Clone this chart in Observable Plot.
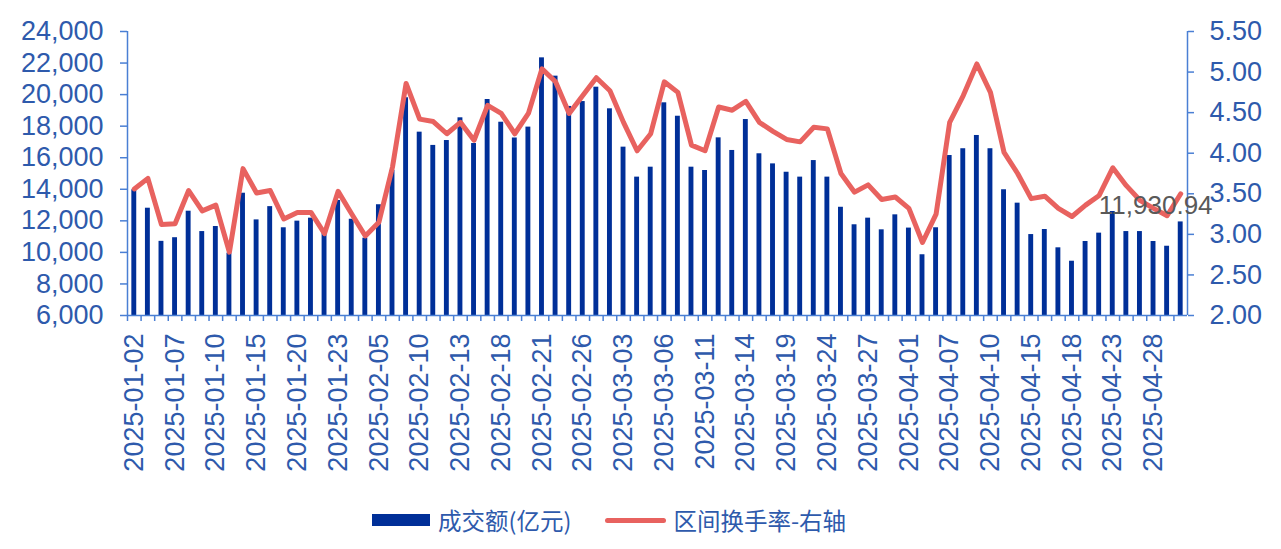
<!DOCTYPE html>
<html>
<head>
<meta charset="utf-8">
<script src="https://cdn.jsdelivr.net/npm/d3@7"></script>
<script src="https://cdn.jsdelivr.net/npm/@observablehq/plot@0.6"></script>
<style>
  html, body { margin: 0; padding: 0; background: #fff; }
  #wrap { width: 1281px; }
  #legend { display: flex; align-items: center; height: 50px; padding-left: 372px;
    font-family: "Noto Sans CJK SC", sans-serif; font-size: 23.5px; color: #2E5AAC; }
  .sw-bar { width: 58px; height: 12px; background: #002F98; margin-right: 8px; }
  .sw-line { width: 61px; height: 5px; border-radius: 3px; background: #E8625F; margin-left: 34px; margin-right: 7px; }
</style>
</head>
<body>
<div id="wrap"><div id="chart"></div>
<div id="legend"><div class="sw-bar"></div><span>成交额(亿元)</span><div class="sw-line"></div><span>区间换手率-右轴</span></div>
</div>
<script>
const dates = [
"2025-01-02","2025-01-03","2025-01-06","2025-01-07","2025-01-08","2025-01-09","2025-01-10","2025-01-13","2025-01-14","2025-01-15",
"2025-01-16","2025-01-17","2025-01-20","2025-01-21","2025-01-22","2025-01-23","2025-01-24","2025-01-27","2025-02-05","2025-02-06",
"2025-02-07","2025-02-10","2025-02-11","2025-02-12","2025-02-13","2025-02-14","2025-02-17","2025-02-18","2025-02-19","2025-02-20",
"2025-02-21","2025-02-24","2025-02-25","2025-02-26","2025-02-27","2025-02-28","2025-03-03","2025-03-04","2025-03-05","2025-03-06",
"2025-03-07","2025-03-10","2025-03-11","2025-03-12","2025-03-13","2025-03-14","2025-03-17","2025-03-18","2025-03-19","2025-03-20",
"2025-03-21","2025-03-24","2025-03-25","2025-03-26","2025-03-27","2025-03-28","2025-03-31","2025-04-01","2025-04-02","2025-04-03",
"2025-04-07","2025-04-08","2025-04-09","2025-04-10","2025-04-11","2025-04-14","2025-04-15","2025-04-16","2025-04-17","2025-04-18",
"2025-04-21","2025-04-22","2025-04-23","2025-04-24","2025-04-25","2025-04-28","2025-04-29","2025-04-30"];

// 成交额(亿元)
const volume = [
13970,12800,10700,10930,12610,11320,11640,9950,13750,12060,
12900,11560,11980,12170,11200,13290,12100,10900,13020,15200,
19800,17620,16780,17090,18530,16900,19690,18250,17250,17940,
22330,21170,19250,19560,20470,19100,16670,14770,15400,19480,
18630,15400,15190,17260,16460,18420,16250,15610,15080,14770,
15820,14770,12860,11750,12170,11430,12380,11540,9850,11560,
16140,16570,17410,16570,13970,13120,11130,11450,10290,9440,
10690,11220,12590,11320,11320,10690,10390,11930.94];

// 区间换手率 (右轴, %)
const turnover = [
3.56,3.69,3.12,3.13,3.54,3.29,3.36,2.78,3.81,3.51,
3.54,3.19,3.27,3.27,3.01,3.53,3.25,2.98,3.15,3.83,
4.86,4.42,4.39,4.24,4.38,4.16,4.59,4.49,4.24,4.49,
5.04,4.88,4.49,4.71,4.93,4.77,4.38,4.03,4.24,4.88,
4.75,4.10,4.03,4.57,4.53,4.64,4.38,4.27,4.17,4.14,
4.32,4.30,3.75,3.52,3.61,3.43,3.46,3.32,2.90,3.25,
4.38,4.71,5.10,4.75,4.01,3.75,3.44,3.47,3.32,3.22,
3.36,3.48,3.82,3.60,3.42,3.32,3.23,3.50];

const xTickLabels = ["2025-01-02","2025-01-07","2025-01-10","2025-01-15","2025-01-20","2025-01-23","2025-02-05",
"2025-02-10","2025-02-13","2025-02-18","2025-02-21","2025-02-26","2025-03-03","2025-03-06","2025-03-11","2025-03-14",
"2025-03-19","2025-03-24","2025-03-27","2025-04-01","2025-04-07","2025-04-10","2025-04-15","2025-04-18","2025-04-23","2025-04-28"];
const leftTicks = [6000,8000,10000,12000,14000,16000,18000,20000,22000,24000];
const rightTicks = [2.00,2.50,3.00,3.50,4.00,4.50,5.00,5.50];

const leftDomain = [6000, 24000];
const rightDomain = [2.0, 5.5];
const k = (leftDomain[1]-leftDomain[0])/(rightDomain[1]-rightDomain[0]);
const toLeft = r => leftDomain[0] + (r - rightDomain[0]) * k;
const fromLeft = v => (v - leftDomain[0]) / k + rightDomain[0];

const rows = dates.map((d, i) => ({date: d, vol: volume[i], turn: turnover[i]}));

const W = 1281, H = 495, mL = 127, mR = 94, mT = 31, mB = 180;
const step = (W - mL - mR) / dates.length;
const barColor = "#002F98", lineColor = "#E8625F", axisColor = "#4A7FD4", labelColor = "#2E5AAC";

const chart = Plot.plot({
  width: W, height: H,
  marginLeft: mL, marginRight: mR, marginTop: mT, marginBottom: mB,
  style: {fontFamily: "'Liberation Sans', Arial, sans-serif", fontSize: "27px", background: "#fff", color: labelColor},
  x: {type: "band", domain: dates, paddingInner: 0.64, paddingOuter: 0.32, axis: null, label: null},
  y: {domain: leftDomain, axis: null, label: null},
  marks: [
    Plot.barY(rows, {x: "date", y1: leftDomain[0], y2: "vol", fill: barColor}),
    Plot.line(rows, {x: "date", y: d => toLeft(d.turn), stroke: lineColor, strokeWidth: 5, strokeLinejoin: "round", strokeLinecap: "round"}),
    Plot.ruleY([leftDomain[0]], {stroke: axisColor, strokeWidth: 1.5}),
    Plot.ruleX([dates[0]], {y1: leftDomain[0], y2: leftDomain[1], stroke: axisColor, strokeWidth: 1.5, dx: -step/2}),
    Plot.ruleX([dates[dates.length-1]], {y1: leftDomain[0], y2: leftDomain[1], stroke: axisColor, strokeWidth: 1.5, dx: step/2}),
    Plot.axisX({ticks: dates, tickSize: 6, tickFormat: () => "", label: null, stroke: axisColor, strokeWidth: 1.5, dx: -step/2}),
    Plot.axisX({ticks: xTickLabels, tickRotate: -90, tickSize: 0, tickPadding: 18, label: null, fontSize: 27, fill: labelColor, stroke: "none"}),
    Plot.axisY({ticks: leftTicks, anchor: "left", tickSize: 7, tickPadding: 17, label: null, tickFormat: d3.format(","), fontSize: 27, stroke: axisColor, fill: labelColor, strokeWidth: 1.5}),
    Plot.axisY({ticks: rightTicks.map(toLeft), anchor: "right", tickSize: 6, tickPadding: 16, label: null, tickFormat: v => fromLeft(v).toFixed(2), fontSize: 27, stroke: axisColor, fill: labelColor, strokeWidth: 1.5}),
    Plot.text([rows[rows.length-1]], {x: "date", y: "vol", text: d => d3.format(",.2f")(d.vol), dx: -25, dy: -16, fill: "#595959", fontSize: 26})
  ]
});
document.getElementById("chart").appendChild(chart);
</script>
</body>
</html>
